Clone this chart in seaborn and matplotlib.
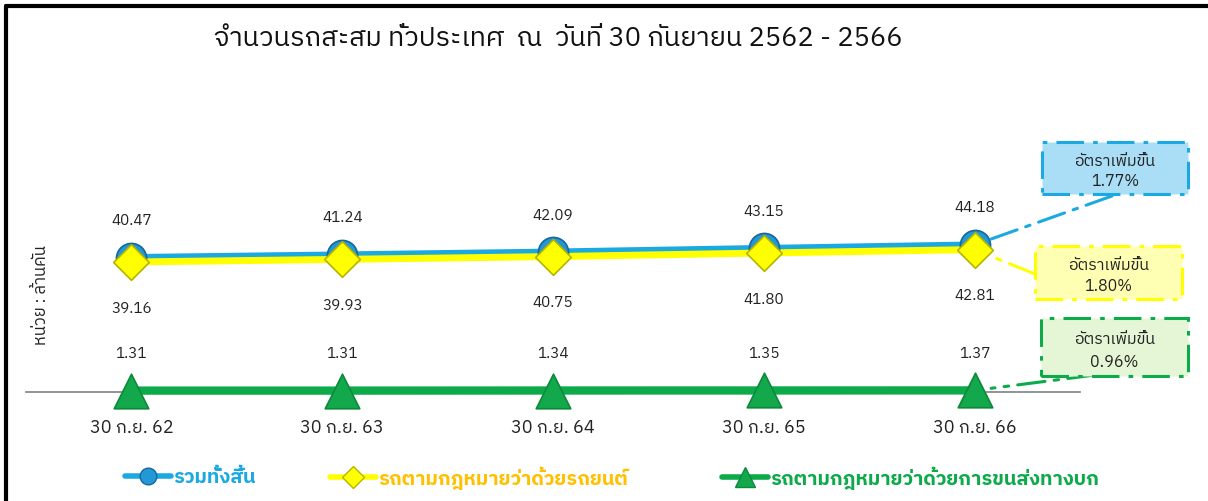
import numpy as np
import pandas as pd
import matplotlib.pyplot as plt
import seaborn as sns
from matplotlib import font_manager
from matplotlib.ft2font import FT2Font
from matplotlib.lines import Line2D
from matplotlib.patches import Rectangle


# ข้อมูล (ล้านคัน)
dates = ["30 ก.ย. 62", "30 ก.ย. 63", "30 ก.ย. 64", "30 ก.ย. 65", "30 ก.ย. 66"]
total = [40.47, 41.24, 42.09, 43.15, 44.18]
cars = [39.16, 39.93, 40.75, 41.80, 42.81]
land = [1.31, 1.31, 1.34, 1.35, 1.37]
growth = ["1.77%", "1.80%", "0.96%"]

names = ["รวมทั้งสิ้น", "รถตามกฎหมายว่าด้วยรถยนต์", "รถตามกฎหมายว่าด้วยการขนส่งทางบก"]


def thai_fonts():
    found = []
    for f in font_manager.fontManager.ttflist:
        try:
            cmap = FT2Font(f.fname).get_charmap()
        except Exception:
            continue
        if 0x0E01 in cmap and 0x0E49 in cmap and f.name not in found:
            found.append(f.name)
    return found


sns.set_theme(style="white")
tf = thai_fonts()
thai = tf[0] if tf else "DejaVu Sans"
for pref in tf:
    if "Thai" in pref and "Looped" not in pref:
        thai = pref
        break
plt.rcParams["font.family"] = [thai, "DejaVu Sans"]

df = pd.DataFrame({"x": np.arange(len(dates)), "total": total, "cars": cars, "land": land})

fig = plt.figure(figsize=(12.08, 5.02), dpi=100)
ax = fig.add_axes([26 / 1208, 109 / 502, 1054 / 1208, 313 / 502])

BLUE = "#1BA9E2"
YEL = "#FFFF00"
GRN = "#0DAA4A"

# เส้น
sns.lineplot(data=df, x="x", y="total", ax=ax, color=BLUE, lw=5, zorder=2)
sns.lineplot(data=df, x="x", y="cars", ax=ax, color=YEL, lw=5, zorder=2.6)
sns.lineplot(data=df, x="x", y="land", ax=ax, color=GRN, lw=6, zorder=3, clip_on=False)

# มาร์กเกอร์
sns.scatterplot(data=df, x="x", y="total", ax=ax, marker="o", s=470, color="#2398D6",
                edgecolor="#17679A", linewidth=1.2, zorder=3)
sns.scatterplot(data=df, x="x", y="cars", ax=ax, marker="D", s=330, color=YEL,
                edgecolor="#B5B500", linewidth=1.2, zorder=4)
sns.scatterplot(data=df, x="x", y="land", ax=ax, marker="^", s=620, color="#13A84C",
                edgecolor="#0B8A3A", linewidth=1.2, zorder=4, clip_on=False)

ax.set_xlim(-0.5, 4.5)
ax.set_ylim(0.9, 93)
for s in ["top", "right", "left"]:
    ax.spines[s].set_visible(False)
ax.spines["bottom"].set_color("#808080")
ax.spines["bottom"].set_linewidth(1.2)
ax.set_yticks([])
ax.set_xticks(df["x"])
ax.set_xticklabels(dates, fontsize=13, color="#222222")
ax.tick_params(axis="x", length=0, pad=19)
ax.set_xlabel("")
ax.set_ylabel("")

# ป้ายค่า
for i in range(len(dates)):
    ax.annotate(f"{total[i]:.2f}", (i, total[i]), xytext=(0, 27), textcoords="offset points",
                ha="center", va="center", fontsize=11, color="#222222")
    ax.annotate(f"{cars[i]:.2f}", (i, cars[i]), xytext=(0, -33), textcoords="offset points",
                ha="center", va="center", fontsize=11, color="#222222")
    ax.annotate(f"{land[i]:.2f}", (i, land[i]), xytext=(0, 27), textcoords="offset points",
                ha="center", va="center", fontsize=11, color="#222222")

# กล่องอัตราเพิ่มขึ้น (พิกัดเป็นพิกเซลจากด้านบน)
boxes = [
    (1042, 143, 146, 52, "#AADEF6", BLUE, total[-1], (1112, 197)),
    (1035, 247, 147, 53, "#FFFFB4", YEL, cars[-1], (1035, 275)),
    (1041, 319, 147, 58, "#E4F6D6", GRN, land[-1], (1095, 376)),
]
for (bx, by, bw, bh, fc, ec, val, tip), g in zip(boxes, growth):
    fig.add_artist(Rectangle((bx / 1208, 1 - (by + bh) / 502), bw / 1208, bh / 502,
                             transform=fig.transFigure, facecolor=fc, edgecolor=ec, lw=2.2,
                             linestyle=(0, (9, 3, 1.5, 3))))
    fig.text((bx + bw / 2) / 1208, 1 - (by + bh * 0.34) / 502, "อัตราเพิ่มขึ้น",
             ha="center", va="center", fontsize=11.5, color="#222222")
    fig.text((bx + bw / 2) / 1208, 1 - (by + bh * 0.74) / 502, g,
             ha="center", va="center", fontsize=11.5, color="#222222")
    ax.annotate("", xy=(4, val), xycoords="data", xytext=(tip[0], 502 - tip[1]),
                textcoords="figure pixels",
                arrowprops=dict(arrowstyle="-", color=ec, lw=2.2, linestyle=(0, (9, 3, 1.5, 3)),
                                shrinkA=0, shrinkB=12))

# หัวเรื่อง
fig.text(558 / 1208, 1 - 38 / 502, "จำนวนรถสะสม ทั่วประเทศ  ณ  วันที่ 30 กันยายน 2562 - 2566",
         ha="center", va="center", fontsize=19.5, color="#111111")
fig.text(41 / 1208, 1 - 295 / 502, "หน่วย : ล้านคัน", rotation=90, ha="center", va="center",
         fontsize=12, color="#222222")

# คำอธิบาย (แยกตำแหน่งแต่ละรายการ)
handles = [
    Line2D([], [], color=BLUE, lw=4, marker="o", markersize=12, markerfacecolor="#2398D6",
           markeredgecolor="#17679A"),
    Line2D([], [], color=YEL, lw=4, marker="D", markersize=11, markerfacecolor=YEL,
           markeredgecolor="#B5B500"),
    Line2D([], [], color=GRN, lw=4, marker="^", markersize=14, markerfacecolor="#13A84C",
           markeredgecolor="#0B8A3A"),
]
leg_x = [125, 330, 722]
for h, n, lx, c in zip(handles, names, leg_x, [BLUE, "#FFC000", GRN]):
    leg = fig.legend([h], [n], loc="center left", bbox_to_anchor=(lx / 1208, 1 - 478 / 502),
                     frameon=False, handlelength=2.3, handletextpad=0.1,
                     prop={"size": 14.3, "weight": "bold"}, borderpad=0, borderaxespad=0)
    leg.get_texts()[0].set_color(c)

# กรอบ
fig.add_artist(Line2D([6 / 1208, 1], [1 - 7 / 502, 1 - 7 / 502], color="black", lw=3,
                      transform=fig.transFigure))
fig.add_artist(Line2D([6 / 1208, 6 / 1208], [0, 1 - 7 / 502], color="black", lw=3,
                      transform=fig.transFigure))

fig.savefig("out.png", dpi=100)
